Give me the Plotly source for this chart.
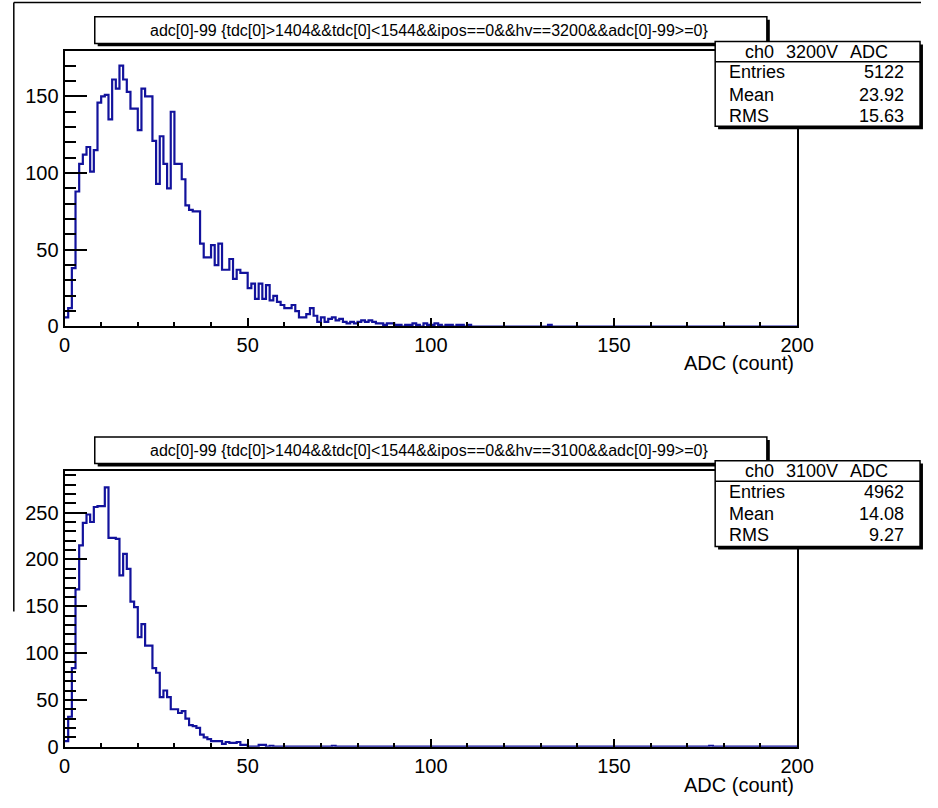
import plotly.graph_objects as go

# ---------------- data ----------------
n_bins = 200
x_low, x_high = 0, 200

top_counts = [
    6, 12, 38, 88, 106, 112, 117, 101, 115, 146,
    150, 151, 135, 161, 155, 170, 161, 153, 142, 142,
    128, 155, 150, 150, 121, 93, 124, 106, 90, 140,
    106, 106, 96, 79, 76, 75, 75, 54, 45, 45,
    53, 40, 54, 37, 37, 44, 31, 37, 35, 35,
    25, 28, 18, 28, 18, 27, 17, 20, 16, 14,
    12, 12, 14, 10, 6, 6, 8, 12, 7, 3,
    6, 3, 5, 6, 4, 5, 3, 2, 3, 2,
    3, 4, 3, 4, 3, 2, 2, 1, 2, 2,
    1, 1, 0, 1, 1, 2, 1, 0, 2, 1,
    1, 2, 1, 0, 1, 1, 0, 1, 1, 0,
    1, 0, 0, 0, 0, 0, 0, 0, 0, 0,
    0, 0, 0, 0, 0, 0, 0, 0, 0, 0,
    0, 0, 1,
]
bottom_counts = [
    6, 32, 84, 168, 215, 239, 248, 240, 256, 257,
    257, 277, 223, 223, 222, 183, 206, 190, 155, 149,
    117, 131, 108, 108, 84, 79, 53, 60, 53, 40,
    40, 36, 38, 30, 23, 22, 20, 13, 10, 8,
    6, 6, 6, 3, 5, 4, 4, 5, 2, 2,
    0, 0, 0, 2, 2, 0, 1, 0, 0, 0,
    0, 0, 0, 0, 0, 0, 0, 0, 0, 0,
    0, 0, 0, 1, 0, 0, 0, 0, 0, 0,
]
bottom_sparse = {176: 1}

titles = [
    "adc[0]-99 {tdc[0]>1404&&tdc[0]<1544&&ipos==0&&hv==3200&&adc[0]-99>=0}",
    "adc[0]-99 {tdc[0]>1404&&tdc[0]<1544&&ipos==0&&hv==3100&&adc[0]-99>=0}",
]
stat_headers = [("ch0", "3200V", "ADC"), ("ch0", "3100V", "ADC")]
stat_labels = ["Entries", "Mean", "RMS"]
stat_values = [["5122", "23.92", "15.63"], ["4962", "14.08", "9.27"]]
x_title = "ADC (count)"
y_ranges = [179.4, 295]

# ---------------- helpers ----------------
W, H = 938, 808
def X(p):
    return p / W
def Y(p):
    return 1 - p / H

def full_counts(vals, sparse=None):
    out = list(vals) + [0] * (n_bins - len(vals))
    if sparse:
        for k, v in sparse.items():
            out[k] = v
    return out

bin_w = (x_high - x_low) / n_bins
edges = [x_low + i * bin_w for i in range(n_bins + 1)]

top_full = full_counts(top_counts)
bot_full = full_counts(bottom_counts, bottom_sparse)

line_col = "#12129c"
fig = go.Figure()
fig.add_trace(go.Scatter(x=edges, y=top_full + [top_full[-1]], mode="lines",
                         line=dict(shape="hv", color=line_col, width=2.2),
                         xaxis="x", yaxis="y", showlegend=False, hoverinfo="skip"))
fig.add_trace(go.Scatter(x=edges, y=bot_full + [bot_full[-1]], mode="lines",
                         line=dict(shape="hv", color=line_col, width=2.2),
                         xaxis="x2", yaxis="y2", showlegend=False, hoverinfo="skip"))

FONT = "Liberation Sans, Arial, sans-serif"
tickfont = dict(family=FONT, size=20, color="black")

def xaxis_cfg(anchor):
    return dict(domain=[X(60), X(811)], range=[x_low, x_high], anchor=anchor,
                showline=True, linewidth=2, linecolor="black", mirror=True,
                ticks="inside", ticklen=8, tickwidth=2, tickcolor="black",
                tick0=0, dtick=50, showgrid=False, zeroline=False,
                tickfont=tickfont,
                minor=dict(dtick=10, ticks="inside", ticklen=4, tickwidth=1.5,
                           tickcolor="black", showgrid=False))

def yaxis_cfg(anchor, dom, top):
    return dict(domain=dom, range=[0, top], anchor=anchor,
                showline=True, linewidth=2, linecolor="black", mirror=True,
                ticks="inside", ticklen=22, tickwidth=2, tickcolor="black",
                tick0=0, dtick=50, showgrid=False, zeroline=False,
                tickfont=tickfont,
                minor=dict(dtick=10, ticks="inside", ticklen=11, tickwidth=1.5,
                           tickcolor="black", showgrid=False))

shapes = []
annotations = []

# outer pad border fragments
shapes.append(dict(type="line", xref="paper", yref="paper",
                   x0=X(8), x1=X(938), y0=Y(2.5), y1=Y(2.5),
                   line=dict(color="black", width=1.5)))
shapes.append(dict(type="line", xref="paper", yref="paper",
                   x0=X(8), x1=X(8), y0=Y(2.5), y1=Y(620),
                   line=dict(color="black", width=1.5)))

panel_geo = [
    dict(title=(91, 17, 780, 44), title_y=31, stat=(727, 42, 937, 128), sep=62.5,
         head_y=53, rows=[73.5, 96, 117.5], xt_y=368),
    dict(title=(91, 443, 780, 470), title_y=456.5, stat=(727, 467, 937, 554), sep=488,
         head_y=478, rows=[498.5, 521, 542.5], xt_y=796),
]

for i, g in enumerate(panel_geo):
    x0, y0, x1, y1 = g["title"]
    shapes.append(dict(type="rect", xref="paper", yref="paper",
                       x0=X(x0 + 3), x1=X(x1 + 3), y0=Y(y1 + 3), y1=Y(y0 + 3),
                       fillcolor="black", line=dict(width=0)))
    shapes.append(dict(type="rect", xref="paper", yref="paper",
                       x0=X(x0), x1=X(x1), y0=Y(y1), y1=Y(y0),
                       fillcolor="white", line=dict(color="black", width=1.5)))
    annotations.append(dict(text=titles[i], xref="paper", yref="paper",
                            x=X(434), y=Y(g["title_y"]), xanchor="center", yanchor="middle",
                            showarrow=False, font=dict(family=FONT, size=16, color="black")))
    sx0, sy0, sx1, sy1 = g["stat"]
    shapes.append(dict(type="rect", xref="paper", yref="paper",
                       x0=X(sx0 + 3), x1=X(sx1 + 3), y0=Y(sy1 + 3), y1=Y(sy0 + 3),
                       fillcolor="black", line=dict(width=0)))
    shapes.append(dict(type="rect", xref="paper", yref="paper",
                       x0=X(sx0), x1=X(sx1), y0=Y(sy1), y1=Y(sy0),
                       fillcolor="white", line=dict(color="black", width=1.5)))
    shapes.append(dict(type="line", xref="paper", yref="paper",
                       x0=X(sx0), x1=X(sx1), y0=Y(g["sep"]), y1=Y(g["sep"]),
                       line=dict(color="black", width=1.5)))
    hx = [772.5, 826, 885]
    for t, hxp in zip(stat_headers[i], hx):
        annotations.append(dict(text=t, xref="paper", yref="paper", x=X(hxp), y=Y(g["head_y"]),
                                xanchor="center", yanchor="middle", showarrow=False,
                                font=dict(family=FONT, size=18, color="black")))
    for lab, val, ry in zip(stat_labels, stat_values[i], g["rows"]):
        annotations.append(dict(text=lab, xref="paper", yref="paper", x=X(739), y=Y(ry),
                                xanchor="left", yanchor="middle", showarrow=False,
                                font=dict(family=FONT, size=18, color="black")))
        annotations.append(dict(text=val, xref="paper", yref="paper", x=X(923), y=Y(ry),
                                xanchor="right", yanchor="middle", showarrow=False,
                                font=dict(family=FONT, size=18, color="black")))
    annotations.append(dict(text=x_title, xref="paper", yref="paper", x=X(810), y=Y(g["xt_y"]),
                            xanchor="right", yanchor="middle", showarrow=False,
                            font=dict(family=FONT, size=20, color="black")))

fig.update_layout(
    width=W, height=H, autosize=False, margin=dict(l=0, r=0, t=0, b=0),
    paper_bgcolor="white", plot_bgcolor="white",
    xaxis=xaxis_cfg("y"),
    yaxis=yaxis_cfg("x", [Y(331), Y(52)], y_ranges[0]),
    xaxis2=xaxis_cfg("y2"),
    yaxis2=yaxis_cfg("x2", [Y(757), Y(477)], y_ranges[1]),
    shapes=shapes, annotations=annotations, showlegend=False,
)

fig.write_html("out.html", config={"responsive": False, "displayModeBar": False})
